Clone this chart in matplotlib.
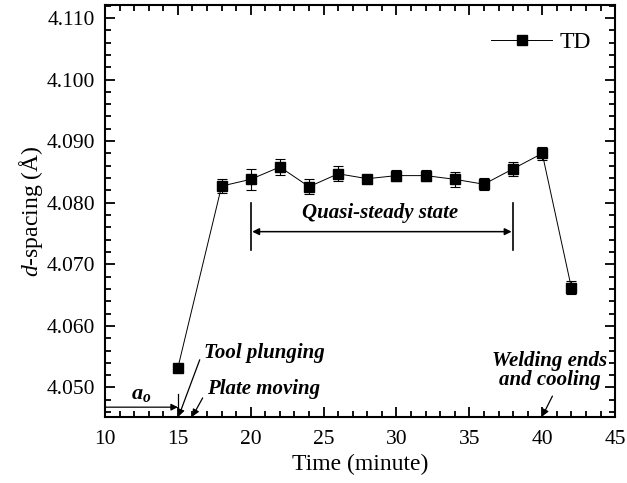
import matplotlib
matplotlib.use("Agg")
import matplotlib.pyplot as plt
from matplotlib.lines import Line2D
from matplotlib.ticker import MultipleLocator, FormatStrFormatter

plt.rcParams['font.family'] = ['Liberation Serif', 'DejaVu Serif']
plt.rcParams['mathtext.fontset'] = 'custom'
plt.rcParams['mathtext.rm'] = 'Liberation Serif'
plt.rcParams['mathtext.it'] = 'Liberation Serif:italic'
plt.rcParams['mathtext.bf'] = 'Liberation Serif:bold:italic'

time_min = [15, 18, 20, 22, 24, 26, 28, 30, 32, 34, 36, 38, 40, 42]
d_spacing = [4.0532, 4.0827, 4.0838, 4.0858, 4.0826, 4.0847, 4.0839, 4.0844,
             4.0844, 4.0838, 4.0830, 4.0855, 4.0880, 4.0662]
d_err = [0.0003, 0.0011, 0.0017, 0.0013, 0.0012, 0.0012, 0.0005, 0.0009,
         0.0009, 0.0012, 0.0010, 0.0011, 0.0010, 0.0011]
series_label = "TD"

fig = plt.figure(figsize=(6.27, 4.83), dpi=100)
ax = fig.add_axes([0.1675, 0.1366, 0.8135, 0.853])

ax.errorbar(time_min, d_spacing, yerr=d_err, color='black', marker='s', markersize=7,
            linewidth=0.7, elinewidth=0.8, capsize=3.5, capthick=0.8)

ax.set_xlim(10, 45)
ax.set_ylim(4.0452, 4.1121)
ax.xaxis.set_major_locator(MultipleLocator(5))
ax.xaxis.set_minor_locator(MultipleLocator(1))
ax.yaxis.set_major_locator(MultipleLocator(0.010))
ax.yaxis.set_minor_locator(MultipleLocator(0.002))
ax.yaxis.set_major_formatter(FormatStrFormatter('%.3f'))
ax.tick_params(which='both', direction='in', top=True, right=True, width=1.3)
ax.tick_params(which='major', length=7, labelsize=15.5)
ax.tick_params(axis='x', which='major', pad=9)
ax.tick_params(axis='y', which='major', pad=7)
ax.tick_params(which='minor', length=4)
for s in ax.spines.values():
    s.set_linewidth(1.5)

ax.set_xlabel('Time (minute)', fontsize=17, labelpad=4)
ax.set_ylabel('$d$-spacing (Å)', fontsize=17, labelpad=1)

handle = Line2D([], [], color='black', marker='s', markersize=7, linewidth=0.7)
ax.legend([handle], [series_label], loc='upper right', frameon=False, fontsize=17,
          handlelength=2.6, handletextpad=0.3, borderaxespad=0.3,
          bbox_to_anchor=(0.985, 0.975))

ann = dict(fontsize=15, fontweight='bold', fontstyle='italic')
arw = dict(arrowstyle='-|>', color='black', lw=0.9, mutation_scale=10, shrinkA=0, shrinkB=0)

# a_o arrow
ax.annotate('', xy=(15, 4.0468), xytext=(10, 4.0468), arrowprops=arw)
ax.plot([15, 15], [4.0463, 4.0489], color='black', lw=0.9)
ax.text(12.5, 4.0489, r'$\mathbf{a_o}$', fontsize=16, ha='center', va='center')

# Tool plunging
ax.annotate('', xy=(15.05, 4.0453), xytext=(16.5, 4.0545), arrowprops=arw)
ax.text(16.8, 4.0556, 'Tool plunging', ha='left', va='center', **ann)

# Plate moving
ax.annotate('', xy=(16.0, 4.0453), xytext=(16.7, 4.0483), arrowprops=arw)
ax.text(17.0, 4.0497, 'Plate moving', ha='left', va='center', **ann)

# Welding ends
ax.annotate('', xy=(40.0, 4.0453), xytext=(40.7, 4.0486), arrowprops=arw)
ax.text(40.5, 4.0528, 'Welding ends\nand cooling', ha='center', va='center',
        multialignment='center', linespacing=0.95, **ann)

# Quasi-steady state
ax.plot([20, 20], [4.0724, 4.0800], color='black', lw=1.2)
ax.plot([38, 38], [4.0724, 4.0800], color='black', lw=1.2)
ax.annotate('', xy=(20.1, 4.0753), xytext=(37.9, 4.0753),
            arrowprops=dict(arrowstyle='<|-|>', color='black', lw=1.1, mutation_scale=10,
                            shrinkA=0, shrinkB=0))
ax.text(28.9, 4.0783, 'Quasi-steady state', ha='center', va='center', **ann)

fig.savefig('out.png', dpi=100)
